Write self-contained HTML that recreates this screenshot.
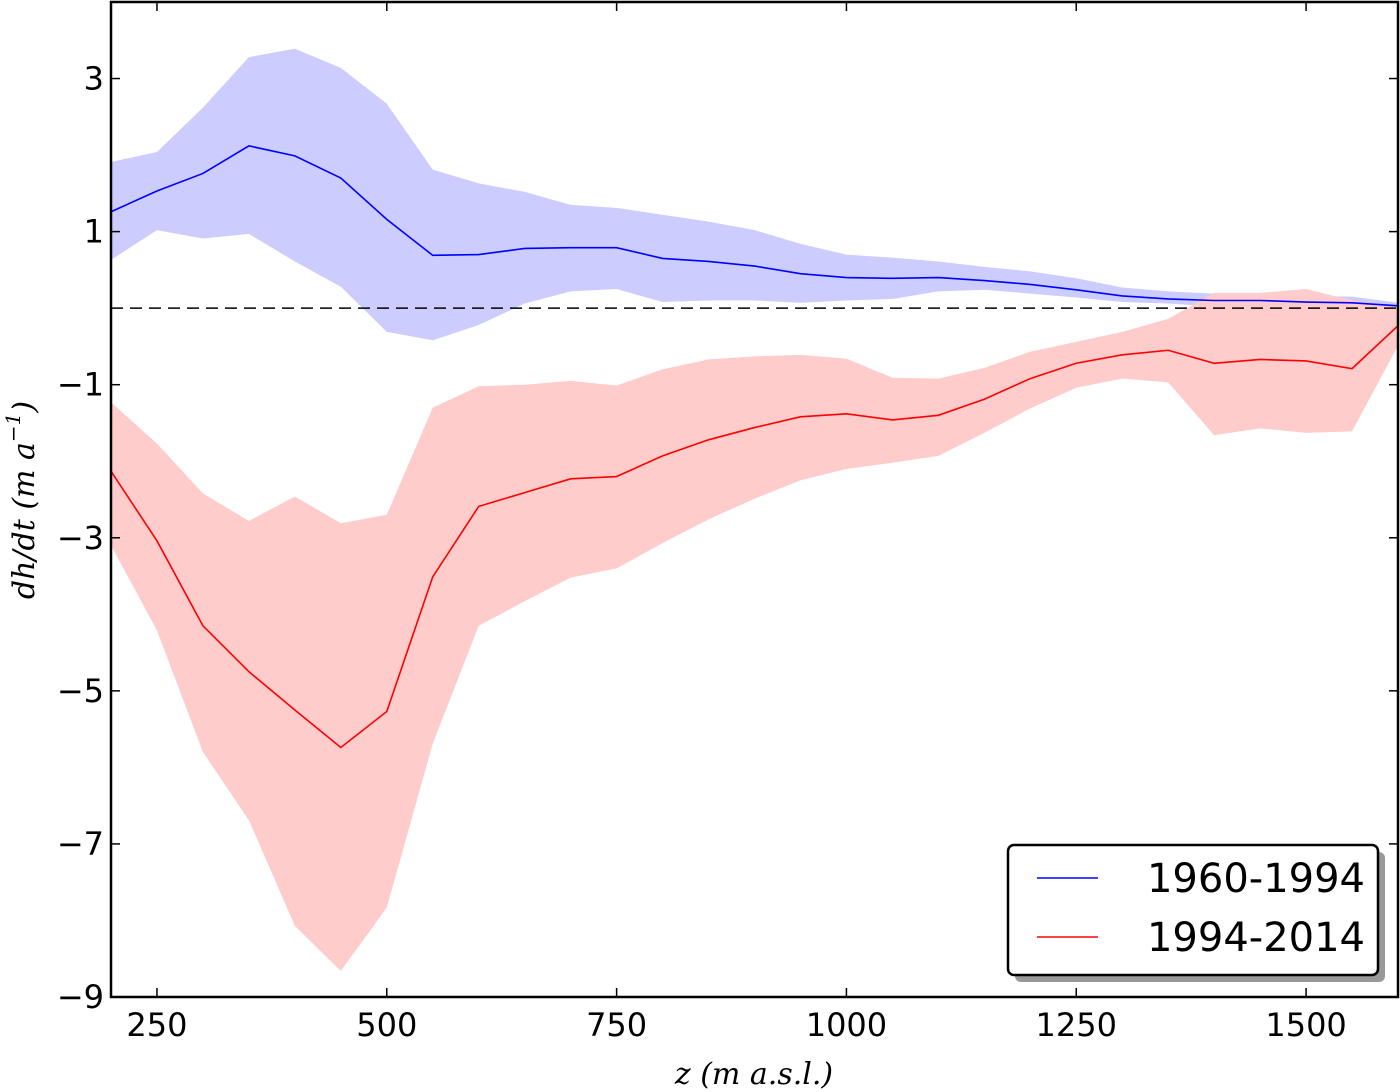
<!DOCTYPE html>
<html><head><meta charset="utf-8"><style>
body{margin:0;background:#fff;}
svg{display:block;font-family:"DejaVu Sans","Liberation Sans",sans-serif;}
</style></head><body>
<svg id="chart" width="1400" height="1092" viewBox="0 0 1400 1092" xmlns="http://www.w3.org/2000/svg">
<g id="plot"></g>
</svg>
<script>
const elev = [200,250,300,350,400,450,500,550,600,650,700,750,800,850,900,950,1000,1050,1100,1150,1200,1250,1300,1350,1400,1450,1500,1550,1600];
const blueMean = [1.26,1.53,1.76,2.12,1.99,1.70,1.16,0.69,0.70,0.78,0.79,0.79,0.65,0.61,0.55,0.45,0.40,0.39,0.40,0.36,0.31,0.24,0.16,0.12,0.10,0.10,0.08,0.07,0.03];
const blueUpper = [1.91,2.04,2.62,3.28,3.39,3.14,2.67,1.81,1.63,1.52,1.35,1.31,1.22,1.13,1.02,0.84,0.70,0.66,0.61,0.54,0.48,0.39,0.27,0.22,0.19,0.18,0.16,0.15,0.07];
const blueLower = [0.63,1.02,0.91,0.97,0.61,0.28,-0.31,-0.42,-0.22,0.06,0.22,0.25,0.08,0.10,0.10,0.07,0.10,0.12,0.22,0.24,0.19,0.14,0.08,0.06,0.02,0.02,0.01,0.01,0.01];
const redMean = [-2.13,-3.04,-4.15,-4.75,-5.25,-5.74,-5.27,-3.51,-2.59,-2.41,-2.23,-2.20,-1.93,-1.72,-1.56,-1.42,-1.38,-1.46,-1.40,-1.19,-0.92,-0.72,-0.61,-0.55,-0.72,-0.67,-0.69,-0.79,-0.23];
const redUpper = [-1.23,-1.77,-2.42,-2.78,-2.46,-2.81,-2.70,-1.30,-1.02,-1.00,-0.95,-1.01,-0.80,-0.67,-0.63,-0.61,-0.66,-0.91,-0.92,-0.78,-0.57,-0.44,-0.31,-0.14,0.20,0.20,0.25,0.10,0.01];
const redLower = [-3.10,-4.21,-5.80,-6.69,-8.07,-8.66,-7.83,-5.69,-4.15,-3.83,-3.52,-3.40,-3.07,-2.76,-2.49,-2.25,-2.10,-2.02,-1.93,-1.63,-1.31,-1.04,-0.92,-0.97,-1.66,-1.57,-1.63,-1.61,-0.49];
const xTicks = [250,500,750,1000,1250,1500];
const yTicks = [3,1,-1,-3,-5,-7,-9];
const legendLabels = ["1960-1994","1994-2014"];

const L=111,R=1398,T=2,B=997, X0=200,X1=1600,Y0=-9,Y1=4;
const sx=v=>L+(v-X0)/(X1-X0)*(R-L);
const sy=v=>B-(v-Y0)/(Y1-Y0)*(B-T);
const NS="http://www.w3.org/2000/svg";
const g=document.getElementById('plot');
function mk(tag,attrs,parent){const e=document.createElementNS(NS,tag);for(const k in attrs)e.setAttribute(k,attrs[k]);(parent||g).appendChild(e);return e;}

function band(up,lo,fill,name){
  let d=up.map((v,i)=>(i?'L':'M')+sx(elev[i])+','+sy(v)).join('');
  for(let i=lo.length-1;i>=0;i--)d+='L'+sx(elev[i])+','+sy(lo[i]);
  const p=mk('path',{d:d+'Z',fill:fill,stroke:'none'});
  
  
}
function line(vals,col,name){
  const p=mk('polyline',{points:vals.map((v,i)=>sx(elev[i])+','+sy(v)).join(' '),fill:'none',stroke:col,'stroke-width':1.6});
  
  
}
band(blueUpper,blueLower,'#ccccff','band-1960-1994');
band(redUpper,redLower,'#ffcccc','band-1994-2014');
const zl=mk('line',{x1:L,x2:R,y1:sy(0),y2:sy(0),stroke:'#000','stroke-width':1.5,'stroke-dasharray':'12,7'});


line(blueMean,'#0000ff','line-1960-1994');
line(redMean,'#ff0000','line-1994-2014');

xTicks.forEach(v=>{
  mk('line',{x1:sx(v),x2:sx(v),y1:B,y2:B-9,stroke:'#000','stroke-width':1.5});
  mk('line',{x1:sx(v),x2:sx(v),y1:T,y2:T+9,stroke:'#000','stroke-width':1.5});
  const t=mk('text',{x:sx(v),y:1036,'text-anchor':'middle','font-size':32});
  t.textContent=v;
  
  
});
yTicks.forEach(v=>{
  mk('line',{x1:L,x2:L+9,y1:sy(v),y2:sy(v),stroke:'#000','stroke-width':1.5});
  mk('line',{x1:R,x2:R-9,y1:sy(v),y2:sy(v),stroke:'#000','stroke-width':1.5});
  const t=mk('text',{x:104,y:sy(v)+11,'text-anchor':'end','font-size':32});
  t.textContent=(v<0?'\u2212':'')+Math.abs(v);
  
  
});
const fr=mk('rect',{x:L,y:T,width:R-L,height:B-T,fill:'none',stroke:'#000','stroke-width':2.5});



const xt=mk('text',{x:754,y:1084,'text-anchor':'middle','font-size':30,'font-style':'italic','font-family':'DejaVu Serif,Liberation Serif,serif'});
xt.textContent='z (m a.s.l.)';


const yt=mk('text',{x:0,y:0,'text-anchor':'middle','font-size':30,'font-style':'italic','font-family':'DejaVu Serif,Liberation Serif,serif',transform:'translate(34,500) rotate(-90)'});
yt.innerHTML='dh/dt (m a<tspan dy="-14" font-size="20">\u22121</tspan><tspan dy="14">)</tspan>';



// legend
const lg=mk('g',{});


mk('rect',{x:1015,y:852,width:370,height:130,rx:6,fill:'#999'},lg);
mk('rect',{x:1008,y:845,width:370,height:130,rx:6,fill:'#fff',stroke:'#000','stroke-width':2.5},lg);
const cols=['#0000ff','#ff0000'];
legendLabels.forEach((lab,i)=>{
  const y=878+i*59;
  const e=mk('g',{},lg);
  
  
  mk('line',{x1:1037,x2:1098,y1:y,y2:y,stroke:cols[i],'stroke-width':1.6},e);
  const t=mk('text',{x:1365,y:y+14,'text-anchor':'end','font-size':40},e);
  t.textContent=lab;
});
</script>
</body></html>
